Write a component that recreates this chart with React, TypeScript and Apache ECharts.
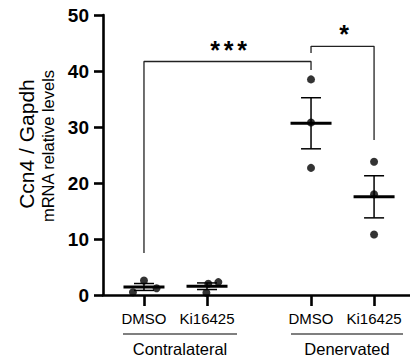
import React, { useEffect, useRef } from "react";
import * as echarts from "echarts";

const categories = ["DMSO", "Ki16425", "DMSO", "Ki16425"];
const positions = [1, 2, 3.65, 4.65];
const groups = ["Contralateral", "Denervated"];
const yTicks = [0, 10, 20, 30, 40, 50];

// individual points and their horizontal jitter
const contraDMSO = [0.5, 2.6, 1.2];
const contraDMSOJitter = [-0.175, 0, 0.2];
const contraKi = [0.4, 2.0, 2.3];
const contraKiJitter = [-0.01, 0.02, 0.18];
const denDMSO = [38.5, 30.8, 22.7];
const denDMSOJitter = [0, 0, 0];
const denKi = [23.8, 18.0, 10.8];
const denKiJitter = [0, 0, 0];

const bracket1 = [
  [1, 7.5],
  [1, 41.7],
  [3.65, 41.7],
  [3.65, 40.2],
];
const bracket2 = [
  [3.65, 43.2],
  [3.65, 44.4],
  [4.65, 44.4],
  [4.65, 27.7],
];

const allGroups = [contraDMSO, contraKi, denDMSO, denKi];
const allJitter = [contraDMSOJitter, contraKiJitter, denDMSOJitter, denKiJitter];

function meanSem(a: number[]) {
  const m = a.reduce((s, v) => s + v, 0) / a.length;
  const sd = Math.sqrt(a.reduce((s, v) => s + (v - m) * (v - m), 0) / (a.length - 1));
  return [m, sd / Math.sqrt(a.length)];
}

export default function App() {
  const ref = useRef<HTMLDivElement>(null);
  useEffect(() => {
    if (!ref.current) return;
    const chart = echarts.init(ref.current, null, { renderer: "svg" });
    const points: number[][] = [];
    allGroups.forEach((g, i) =>
      g.forEach((v, j) => points.push([positions[i] + allJitter[i][j], v]))
    );
    const stats = allGroups.map((g, i) => {
      const [m, s] = meanSem(g);
      return [positions[i], m, s];
    });
    const font = "'Liberation Sans', Arial, sans-serif";
    const star = (x: number, y: number) => ({
      type: "text",
      x,
      y,
      style: {
        text: "*",
        fontSize: 25,
        fontWeight: "bold",
        fontFamily: font,
        fill: "#000",
        align: "center",
        verticalAlign: "middle",
      },
    });
    chart.setOption({
      animation: false,
      grid: { left: 103, top: 15, right: 0, bottom: 68, containLabel: false },
      xAxis: {
        type: "value",
        min: 0.35,
        max: 5.22,
        splitLine: { show: false },
        axisLine: { show: true, onZero: false, lineStyle: { color: "#000", width: 2.6 } },
        axisTick: {
          show: true,
          customValues: positions,
          length: 11,
          lineStyle: { color: "#000", width: 2.6 },
        },
        axisLabel: {
          customValues: positions,
          margin: 16,
          fontSize: 15,
          fontFamily: font,
          color: "#000",
          formatter: (v: number) => {
            const i = positions.findIndex((p) => Math.abs(p - v) < 1e-6);
            return i >= 0 ? categories[i] : "";
          },
        },
      },
      yAxis: {
        type: "value",
        min: 0,
        max: 50,
        interval: 10,
        splitLine: { show: false },
        axisLine: { show: true, lineStyle: { color: "#000", width: 2.6 } },
        axisTick: { show: true, length: 9, lineStyle: { color: "#000", width: 2.6 } },
        axisLabel: {
          margin: 14,
          fontSize: 19,
          fontWeight: "bold",
          fontFamily: font,
          color: "#000",
          formatter: (v: number) => (yTicks.includes(v) ? String(v) : ""),
        },
      },
      series: [
        {
          type: "custom",
          data: stats,
          z: 3,
          renderItem: (params: any, api: any) => {
            const x = api.value(0);
            const m = api.value(1);
            const s = api.value(2);
            const c = api.coord([x, m]);
            const top = api.coord([x, m + s]);
            const bot = api.coord([x, m - s]);
            const stroke = { stroke: "#000", lineWidth: 1.5 };
            return {
              type: "group",
              children: [
                { type: "line", shape: { x1: c[0], y1: top[1], x2: c[0], y2: bot[1] }, style: stroke },
                { type: "line", shape: { x1: c[0] - 10, y1: top[1], x2: c[0] + 10, y2: top[1] }, style: stroke },
                { type: "line", shape: { x1: c[0] - 10, y1: bot[1], x2: c[0] + 10, y2: bot[1] }, style: stroke },
                {
                  type: "line",
                  shape: { x1: c[0] - 20.5, y1: c[1], x2: c[0] + 20.5, y2: c[1] },
                  style: { stroke: "#000", lineWidth: 3 },
                },
              ],
            };
          },
        },
        {
          type: "scatter",
          data: points,
          symbolSize: 8,
          itemStyle: { color: "#000" },
          z: 4,
        },
        {
          type: "line",
          data: bracket1,
          symbol: "none",
          lineStyle: { color: "#222", width: 1.3 },
          z: 2,
        },
        {
          type: "line",
          data: bracket2,
          symbol: "none",
          lineStyle: { color: "#222", width: 1.3 },
          z: 2,
        },
      ],
      graphic: [
        {
          type: "text",
          x: 26,
          y: 144,
          rotation: Math.PI / 2,
          style: {
            text: "Ccn4 / Gapdh",
            fontSize: 21,
            fontFamily: font,
            fill: "#000",
            align: "center",
            verticalAlign: "middle",
          },
        },
        {
          type: "text",
          x: 48,
          y: 146,
          rotation: Math.PI / 2,
          style: {
            text: "mRNA relative levels",
            fontSize: 16.5,
            fontFamily: font,
            fill: "#000",
            align: "center",
            verticalAlign: "middle",
          },
        },
        star(215, 50),
        star(228.5, 50),
        star(242, 50),
        star(344, 34),
        { type: "line", shape: { x1: 123, y1: 334, x2: 237, y2: 334 }, style: { stroke: "#000", lineWidth: 1.2 } },
        { type: "line", shape: { x1: 291, y1: 334, x2: 403, y2: 334 }, style: { stroke: "#000", lineWidth: 1.2 } },
        {
          type: "text",
          x: 180,
          y: 349,
          style: { text: groups[0], fontSize: 16.5, fontFamily: font, fill: "#000", align: "center", verticalAlign: "middle" },
        },
        {
          type: "text",
          x: 347,
          y: 349,
          style: { text: groups[1], fontSize: 16.5, fontFamily: font, fill: "#000", align: "center", verticalAlign: "middle" },
        },
      ],
    });
    return () => chart.dispose();
  }, []);
  return <div ref={ref} style={{ width: 410, height: 363, position: "absolute", left: 0, top: 0 }} />;
}
